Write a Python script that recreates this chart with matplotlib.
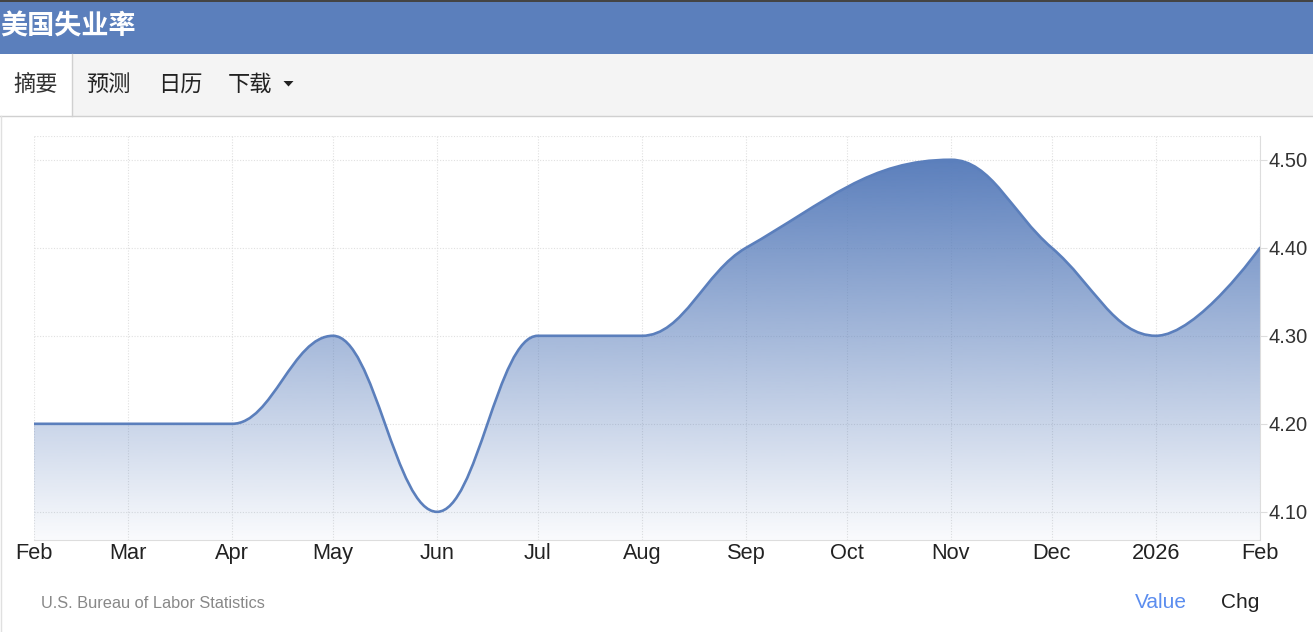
import numpy as np
import matplotlib
matplotlib.use('Agg')
import matplotlib.pyplot as plt
from matplotlib.path import Path
from matplotlib.patches import PathPatch, Rectangle, Polygon

plt.rcParams['font.family'] = ['Liberation Sans', 'Noto Sans CJK SC', 'DejaVu Sans']

# data (Oct has no value)
dates = ['2025-02-01', '2025-03-01', '2025-04-01', '2025-05-01', '2025-06-01',
         '2025-07-01', '2025-08-01', '2025-09-01', '2025-11-01', '2025-12-01',
         '2026-01-01', '2026-02-01']
values = [4.2, 4.2, 4.2, 4.3, 4.1, 4.3, 4.3, 4.4, 4.5, 4.4, 4.3, 4.4]

tick_dates = ['2025-02-01', '2025-03-01', '2025-04-01', '2025-05-01', '2025-06-01',
              '2025-07-01', '2025-08-01', '2025-09-01', '2025-10-01', '2025-11-01',
              '2025-12-01', '2026-01-01', '2026-02-01']
tick_labels = ['Feb', 'Mar', 'Apr', 'May', 'Jun', 'Jul', 'Aug', 'Sep', 'Oct', 'Nov',
               'Dec', '2026', 'Feb']
y_ticks = [4.1, 4.2, 4.3, 4.4, 4.5]

title = '美国失业率'
tabs = ['摘要', '预测', '日历', '下载']
source = 'U.S. Bureau of Labor Statistics'

BLUE = '#5b7fbc'
W, H = 1313, 632

start = np.datetime64(dates[0])


def to_days(ds):
    return [float((np.datetime64(d) - start) / np.timedelta64(1, 'D')) for d in ds]


def spline_path(xs, ys, smoothing=1.5):
    # highcharts-like spline
    n = len(xs)
    denom = smoothing + 1
    rc = [None] * n
    verts = [(xs[0], ys[0])]
    codes = [Path.MOVETO]
    for i in range(n):
        x, y = xs[i], ys[i]
        lc = (x, y)
        if 0 < i < n - 1:
            lx, ly, nx, ny = xs[i - 1], ys[i - 1], xs[i + 1], ys[i + 1]
            lcx = (smoothing * x + lx) / denom
            lcy = (smoothing * y + ly) / denom
            rcx = (smoothing * x + nx) / denom
            rcy = (smoothing * y + ny) / denom
            corr = 0
            if rcx != lcx:
                corr = (rcy - lcy) * (rcx - x) / (rcx - lcx) + y - rcy
            lcy += corr
            rcy += corr
            if lcy > ly and lcy > y:
                lcy = max(ly, y)
                rcy = 2 * y - lcy
            elif lcy < ly and lcy < y:
                lcy = min(ly, y)
                rcy = 2 * y - lcy
            if rcy > ny and rcy > y:
                rcy = max(ny, y)
                lcy = 2 * y - rcy
            elif rcy < ny and rcy < y:
                rcy = min(ny, y)
                lcy = 2 * y - rcy
            rc[i] = (rcx, rcy)
            lc = (lcx, lcy)
        if i > 0:
            prev = rc[i - 1] if rc[i - 1] is not None else (xs[i - 1], ys[i - 1])
            verts += [prev, lc, (x, y)]
            codes += [Path.CURVE4] * 3
    return verts, codes


fig = plt.figure(figsize=(W / 100, H / 100), dpi=100)
fig.patch.set_facecolor('white')

# header band
bg = fig.add_axes([0, 0, 1, 1])
bg.set_xlim(0, W)
bg.set_ylim(H, 0)
bg.axis('off')
bg.add_patch(Rectangle((0, 0), W, 54, facecolor=BLUE, edgecolor='none'))
bg.add_patch(Rectangle((0, 0), W, 1.5, facecolor='#444444', edgecolor='none'))
bg.text(0, 27, title, color='white', fontsize=19.5, fontweight='bold', va='center',
        ha='left', family=['Noto Sans CJK SC'])
# tab bar
bg.add_patch(Rectangle((0, 54), W, 62, facecolor='#f4f4f4', edgecolor='none'))
bg.plot([0, W], [116, 116], color='#d0d0d0', lw=1)
bg.add_patch(Rectangle((0, 54), 72, 63, facecolor='white', edgecolor='none'))
bg.plot([72, 72], [54, 116], color='#d0d0d0', lw=1)
tab_x = [36, 108, 180, 250]
for tx, t in zip(tab_x, tabs):
    bg.text(tx, 84, t, color='#222222' if t != '摘要' else '#333333', fontsize=16,
            ha='center', va='center', family=['Noto Sans CJK SC'])
bg.add_patch(Polygon([(283.5, 81), (293.5, 81), (288.5, 86.5)], closed=True,
                     facecolor='#222222', edgecolor='none'))
bg.plot([0.5, 0.5], [116, H], color='#e0e0e0', lw=1)

# footer
bg.text(41, 603, source, color='#888888', fontsize=11.8, ha='left', va='center')
bg.text(1161, 602, 'Value', color='#5b8def', fontsize=15, ha='center', va='center')
bg.text(1240, 602, 'Chg', color='#222222', fontsize=15, ha='center', va='center')

# chart
x0, x1, yt, yb = 34, 1260, 136, 540
ax = fig.add_axes([x0 / W, (H - yb) / H, (x1 - x0) / W, (yb - yt) / H])
ax.set_facecolor('none')

xs = to_days(dates)
txs = to_days(tick_dates)
ymin, ymax = 4.068, 4.527

verts, codes = spline_path(xs, values)
line_path = Path(verts, codes)

fill_verts = verts + [(xs[-1], ymin), (xs[0], ymin), verts[0]]
fill_codes = codes + [Path.LINETO, Path.LINETO, Path.CLOSEPOLY]
fill_patch = PathPatch(Path(fill_verts, fill_codes), facecolor='none', edgecolor='none',
                       transform=ax.transData)
ax.add_patch(fill_patch)

# vertical gradient from line colour to near white
top_rgb = np.array(matplotlib.colors.to_rgb(BLUE))
t = np.linspace(0, 1, 256)[:, None]
grad = np.ones((256, 1, 4))
grad[..., :3] = top_rgb
grad[..., 3] = 1 - t * 0.97
img = ax.imshow(grad, extent=[txs[0], txs[-1], ymin, max(values)], origin='upper',
                aspect='auto', zorder=1, interpolation='bilinear')
img.set_clip_path(fill_patch)
ax.set_xlim(txs[0], txs[-1])
ax.set_ylim(ymin, ymax)

ax.add_patch(PathPatch(line_path, facecolor='none', edgecolor=BLUE, lw=1.9, zorder=3,
                       capstyle='round', joinstyle='round'))

# grid
for tx in txs:
    ax.axvline(tx, color='#e0e0e0', lw=0.8, ls=(0, (1, 1.5)), zorder=0)
for yv in y_ticks + [ymax]:
    ax.axhline(yv, color='#e0e0e0', lw=0.8, ls=(0, (1, 1.5)), zorder=0)

for s in ['left', 'top']:
    ax.spines[s].set_visible(False)
ax.spines['right'].set_color('#dddddd')
ax.spines['bottom'].set_color('#dddddd')

ax.set_xticks(txs)
ax.set_xticklabels(tick_labels)
ax.set_yticks(y_ticks)
ax.set_yticklabels(['%.2f' % v for v in y_ticks])
ax.yaxis.tick_right()
ax.tick_params(axis='x', length=0, pad=2, labelsize=15.7, labelcolor='#222222')
ax.tick_params(axis='y', length=5, color='#dddddd', pad=1, labelsize=14.5,
               labelcolor='#333333')

fig.savefig('out.png', dpi=100)
